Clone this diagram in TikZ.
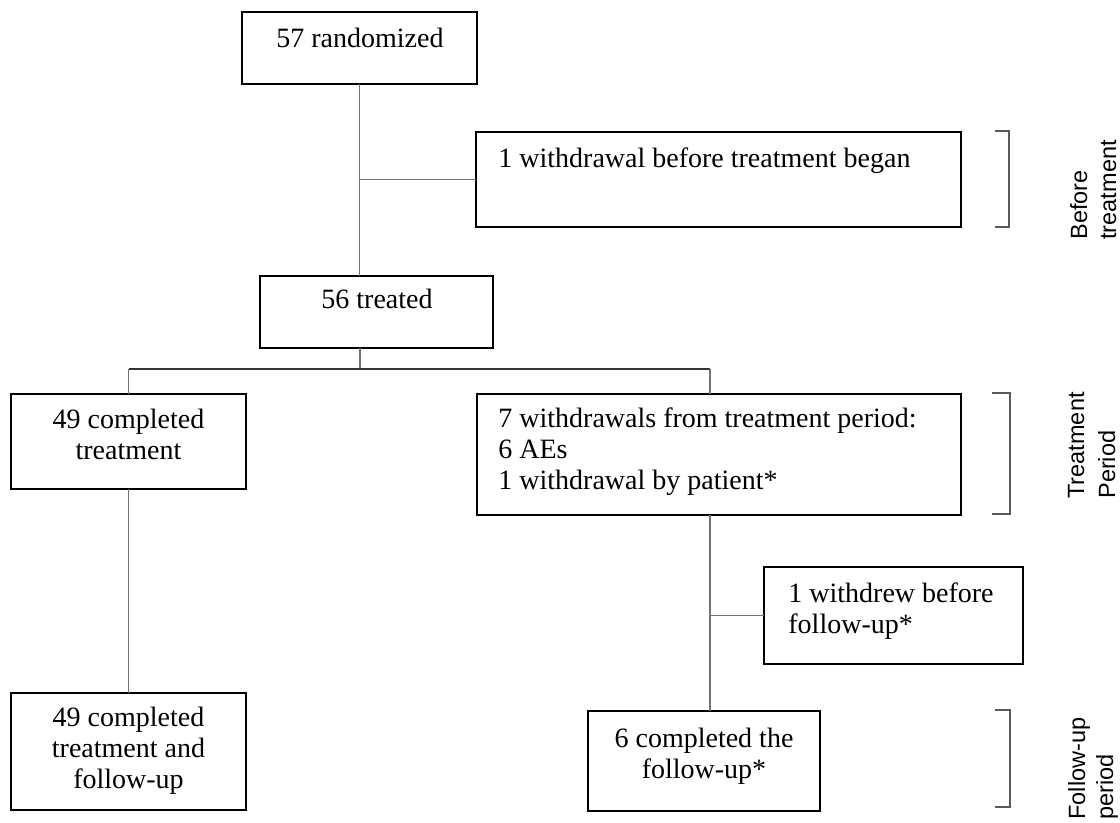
\documentclass[tikz,border=0pt]{standalone}
\usepackage{fontspec}
\setmainfont{Liberation Serif}
\newfontfamily\lsans{Liberation Sans}
\begin{document}
\begin{tikzpicture}[x=0.5pt,y=-0.5pt,
  box/.style={draw=black,line width=1pt,rectangle,anchor=north west,inner sep=0pt,outer sep=0pt},
  txt/.style={font=\fontsize{14}{15.5}\selectfont,inner sep=0pt,anchor=base,align=center},
  txtl/.style={font=\fontsize{14}{15.5}\selectfont,inner sep=0pt,anchor=base west,align=left},
  conn/.style={draw=black!55,line width=0.9pt},
  branch/.style={draw=black!80,line width=0.9pt},
  brk/.style={draw=black!65,line width=0.9pt},
  lab/.style={font=\lsans\fontsize{11.75}{15}\selectfont,rotate=90,anchor=base west,inner sep=0pt}]
\useasboundingbox (0,0) rectangle (1120,823);

% boxes
\node[box,minimum width=117.5pt,minimum height=36pt] (R) at (242,12) {};
\node[box,minimum width=242.5pt,minimum height=47.5pt] (W1) at (476,132) {};
\node[box,minimum width=116.5pt,minimum height=36pt] (T) at (260,276) {};
\node[box,minimum width=117.5pt,minimum height=47.5pt] (C) at (11,394) {};
\node[box,minimum width=242pt,minimum height=60.5pt] (W7) at (477,394) {};
\node[box,minimum width=129.5pt,minimum height=48.5pt] (WF) at (764,567) {};
\node[box,minimum width=117.5pt,minimum height=58.5pt] (CF) at (11,693) {};
\node[box,minimum width=116pt,minimum height=50pt] (F6) at (588,711) {};

% texts (base anchor = baseline of the last line)
\node[txt] (rt) at (360,48) {57 randomized};
\node[txt] (tt) at (377,309) {56 treated};
\node[txt] (ct) at (128.5,460) {49 completed\\treatment};
\node[txtl] (w1t) at (498,168) {1 withdrawal before treatment began};
\node[txtl] (w7t) at (498,490) {7 withdrawals from treatment period:\\6 AEs\\1 withdrawal by patient*};
\node[txtl] (wft) at (788,633) {1 withdrew before\\follow-up*};
\node[txt] (f6t) at (704,778) {6 completed the\\follow-up*};
\node[txt] (cft) at (128.5,788) {49 completed\\treatment and\\follow-up};

% connectors
\draw[conn] (R.south) -- (R.south |- T.north);
\draw[conn] (R.south |- W1.west) -- (W1.west);
\coordinate (j1) at (360,369);
\coordinate (jl) at (C.north |- j1);
\coordinate (jr) at (710,369);
\draw[conn] (T.south -| j1) -- (j1);
\draw[branch] (jl) -- (jr);
\draw[conn] (jl) -- (C.north);
\draw[conn] (jr) -- (jr |- W7.north);
\draw[conn] (jr |- W7.south) -- (jr |- F6.north);
\draw[conn] (jr |- WF.west) -- (WF.west);
\draw[conn] (C.south) -- (CF.north);

% brackets
\coordinate (b1a) at (995,131); \coordinate (b1b) at (1009,227);
\draw[brk] (b1a) -- (b1a -| b1b) -- (b1b) -- (b1b -| b1a);
\coordinate (b2a) at (992,393); \coordinate (b2b) at (1010,514);
\draw[brk] (b2a) -- (b2a -| b2b) -- (b2b) -- (b2b -| b2a);
\coordinate (b3a) at (995,710); \coordinate (b3b) at (1010,807);
\draw[brk] (b3a) -- (b3a -| b3b) -- (b3b) -- (b3b -| b3a);

% period labels
\node[lab] (l1a) at (1087,240) {Before};
\node[lab] (l1b) at (1116,240) {treatment};
\node[lab] (l2a) at (1084,499) {Treatment};
\node[lab] (l2b) at (1115,499) {Period};
\node[lab] (l3a) at (1085,820) {Follow-up};
\node[lab] (l3b) at (1113,820) {period};
\end{tikzpicture}
\end{document}
